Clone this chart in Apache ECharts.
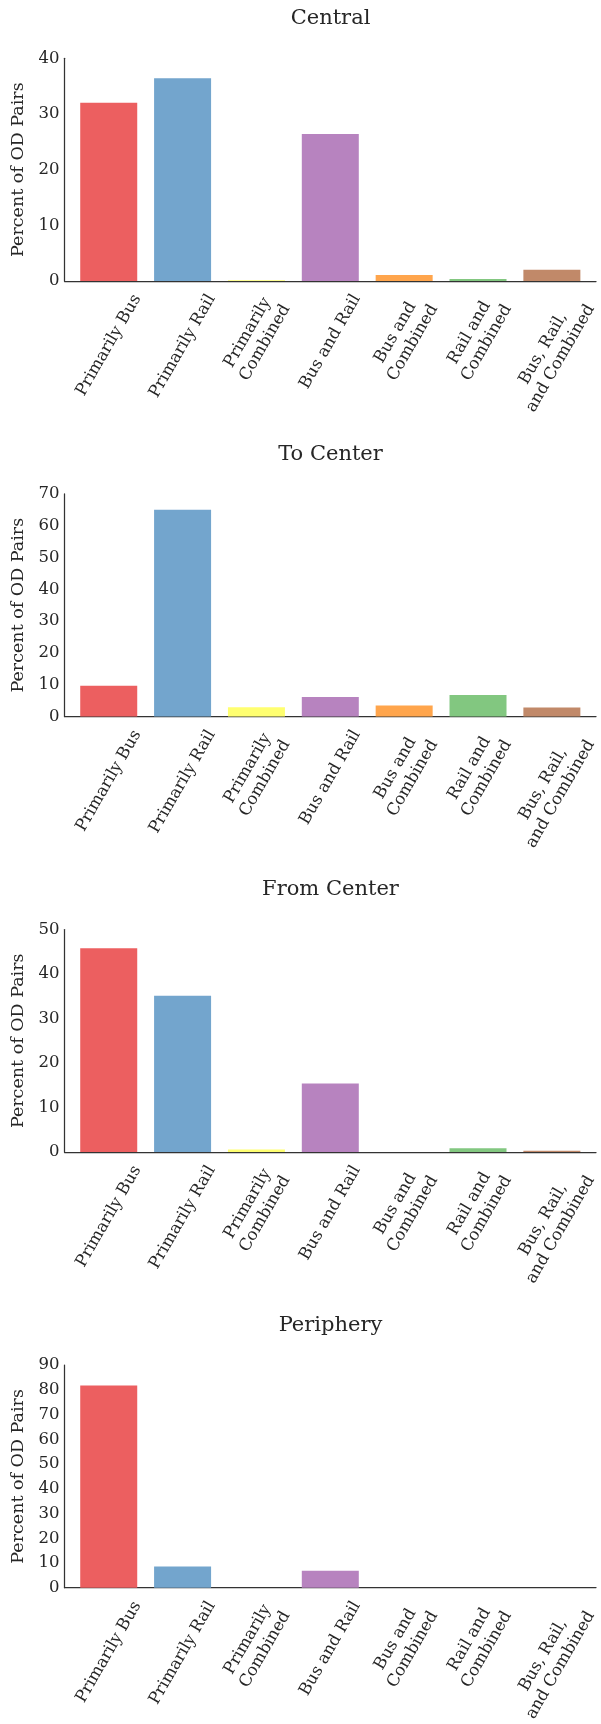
<!DOCTYPE html>
<html>
<head>
<meta charset="utf-8">
<script src="https://cdn.jsdelivr.net/npm/echarts@6/dist/echarts.min.js"></script>
<style>
  html, body { margin: 0; padding: 0; background: #fff; }
  #mychart { width: 601px; height: 1724px; }
</style>
</head>
<body>
<div id="mychart"></div>
<script>
"use strict";
const categories = ['Primarily Bus', 'Primarily Rail', 'Primarily\nCombined', 'Bus and Rail',
    'Bus and\nCombined', 'Rail and\nCombined', 'Bus, Rail,\nand Combined'];
const panelTitles = ['Central', 'To Center', 'From Center', 'Periphery'];
const centralValues = [32.0, 36.4, 0.1, 26.4, 1.05, 0.35, 2.0];
const toCenterValues = [9.7, 65.0, 2.9, 6.1, 3.45, 6.8, 2.8];
const fromCenterValues = [45.8, 35.1, 0.6, 15.4, 0, 0.85, 0.3];
const peripheryValues = [81.8, 8.6, 0, 6.9, 0, 0, 0];
const yMaxes = [40, 70, 50, 90];
const panelValues = [centralValues, toCenterValues, fromCenterValues, peripheryValues];

// seaborn Set1 at alpha 0.7 on white
const barColors = ['#ec5f60', '#73a5cd', '#ffff70', '#b783bf', '#ffa54c', '#82c780', '#c18969'];

const container = document.getElementById('mychart');
const myChart = echarts.init(container);

const FONT = 'DejaVu Serif';
const TEXT = '#262626';
const AXIS = '#333333';
const labelSize = 16.5;
const labelLineH = 20;

// measure label widths so the rotated box can be centred under the tick
const ctx = document.createElement('canvas').getContext('2d');
ctx.font = labelSize + 'px "DejaVu Serif"';
const labelBoxes = categories.map(c => {
    const lines = c.split('\n');
    const w = Math.max.apply(null, lines.map(l => ctx.measureText(l).width));
    return { w, h: lines.length * labelLineH };
});

const plotTop0 = 58.3;
const panelStep = 435.6;
const plotH = 222.6;
const axisLeft = 64.5;
const axisRight = 5;
const barLeft = 71.8;
const barWidthAll = 517;

const option = {
    animation: false,
    color: barColors,
    textStyle: { fontFamily: FONT },
    title: [],
    grid: [],
    xAxis: [],
    yAxis: [],
    series: []
};

panelTitles.forEach((name, p) => {
    const top = plotTop0 + panelStep * p;
    option.title.push({
        text: name,
        left: 330.5,
        textAlign: 'center',
        top: 18.8 + panelStep * p - 12,
        padding: 0,
        textStyle: {
            fontFamily: FONT,
            fontWeight: 'normal',
            fontSize: 21,
            lineHeight: 24,
            color: TEXT
        }
    });
    // grid for the bars and labels
    option.grid.push({ left: barLeft, width: barWidthAll, top: top, height: plotH });
    // grid for the axis lines
    option.grid.push({ left: axisLeft, right: axisRight, top: top, height: plotH });

    const gA = p * 2, gB = p * 2 + 1;
    option.xAxis.push({
        type: 'category',
        gridIndex: gA,
        data: categories,
        boundaryGap: true,
        axisLine: { show: false },
        axisTick: { show: false },
        axisLabel: { show: false },
        splitLine: { show: false }
    });
    option.xAxis.push({
        type: 'value',
        gridIndex: gB,
        min: 0,
        max: 1,
        axisLine: { show: true, lineStyle: { color: AXIS, width: 1.25 } },
        axisTick: { show: false },
        axisLabel: { show: false },
        splitLine: { show: false }
    });
    option.yAxis.push({
        type: 'value',
        gridIndex: gA,
        min: 0,
        max: yMaxes[p],
        show: false,
        splitLine: { show: false }
    });
    option.yAxis.push({
        type: 'value',
        gridIndex: gB,
        min: 0,
        max: yMaxes[p],
        interval: 10,
        name: 'Percent of OD Pairs',
        nameLocation: 'middle',
        nameRotate: 90,
        nameGap: 36.5,
        nameTextStyle: { fontFamily: FONT, fontSize: 17.5, color: TEXT },
        axisLine: { show: true, lineStyle: { color: AXIS, width: 1.25 } },
        axisTick: { show: false },
        axisLabel: { fontFamily: FONT, fontSize: labelSize, color: TEXT, margin: 5 },
        splitLine: { show: false }
    });

    option.series.push({
        type: 'bar',
        xAxisIndex: gA,
        yAxisIndex: gA,
        colorBy: 'data',
        barWidth: 57,
        data: panelValues[p]
    });
    option.series.push({
        type: 'custom',
        xAxisIndex: gA,
        yAxisIndex: gA,
        silent: true,
        data: categories.map((c, i) => [i, 0]),
        renderItem: function (params, api) {
            const i = api.value(0);
            const pt = api.coord([i, 0]);
            const box = labelBoxes[i];
            const bh = box.w * Math.sin(Math.PI / 3) + box.h * Math.cos(Math.PI / 3);
            return {
                type: 'text',
                x: pt[0],
                y: pt[1] + 10 + bh / 2,
                rotation: Math.PI / 3,
                style: {
                    text: categories[i],
                    fill: TEXT,
                    font: labelSize + 'px "DejaVu Serif"',
                    lineHeight: labelLineH,
                    align: 'center',
                    verticalAlign: 'middle'
                }
            };
        }
    });
});

myChart.setOption(option);
</script>
</body>
</html>
